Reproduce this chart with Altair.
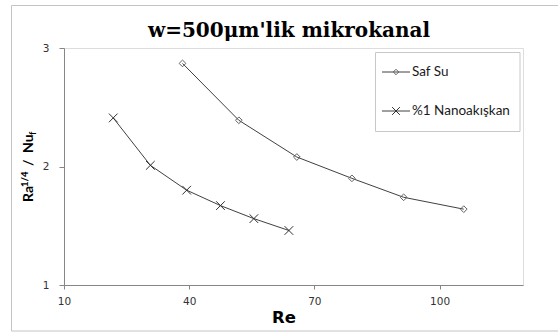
import altair as alt
import pandas as pd

# Reynolds number and Ra^(1/4)/Nu_f for the two working fluids
re_saf = [38.4, 51.9, 65.8, 79.0, 91.4, 105.8]
val_saf = [2.87, 2.39, 2.08, 1.90, 1.74, 1.64]
re_nano = [21.8, 30.7, 39.4, 47.5, 55.5, 63.9]
val_nano = [2.41, 2.01, 1.80, 1.67, 1.56, 1.46]

series_names = ["Saf Su", "%1 Nanoakışkan"]
x_ticks = [10, 40, 70, 100]
y_ticks = [1, 2, 3]

X_PATH = "M-1,-1L1,1M-1,1L1,-1"

df = pd.DataFrame(
    {
        "Re": re_saf + re_nano,
        "val": val_saf + val_nano,
        "seri": [series_names[0]] * len(re_saf) + [series_names[1]] * len(re_nano),
    }
)

W, H = 459, 237

x_enc = alt.X(
    "Re:Q",
    scale=alt.Scale(domain=[10, 120], nice=False, zero=False),
    axis=alt.Axis(values=x_ticks, format=".0f", title=None, grid=False, tickSize=4,
                  labelPadding=7, labelOverlap=False, labelFlush=False,
                  domainColor="#868686", tickColor="#868686",
                  labelFont="DejaVu Sans", labelFontSize=10.5, labelColor="#333333"),
)
y_enc = alt.Y(
    "val:Q",
    scale=alt.Scale(domain=[1, 3], nice=False, zero=False),
    axis=alt.Axis(values=y_ticks, format=".0f", title=None, grid=False, tickSize=5,
                  labelPadding=10, labelOverlap=False, labelFlush=False,
                  domainColor="#868686", tickColor="#868686",
                  labelFont="DejaVu Sans", labelFontSize=10.5, labelColor="#333333"),
)

base = alt.Chart(df)

lines = base.mark_line(color="#404040", strokeWidth=1).encode(
    x=x_enc, y=y_enc, detail="seri:N"
)

saf_pts = base.transform_filter(alt.datum.seri == series_names[0]).mark_point(
    shape="diamond", size=45, filled=False, color="#606060", strokeWidth=1, opacity=1
).encode(x="Re:Q", y="val:Q")

nano_pts = base.transform_filter(alt.datum.seri == series_names[1]).mark_point(
    shape=X_PATH, size=75, filled=False, color="#303030", strokeWidth=1, opacity=1
).encode(x="Re:Q", y="val:Q")

one = alt.Data(values=[{}])


def box(x, x2, y, y2, stroke):
    return alt.Chart(one).mark_rect(fill=None, stroke=stroke, strokeWidth=1).encode(
        x=alt.value(x), x2=alt.value(x2), y=alt.value(y), y2=alt.value(y2)
    )


def label(text, x, y, size, font, weight="normal", angle=0, align="left",
          baseline="alphabetic", color="#000000"):
    return alt.Chart(one).mark_text(
        text=text, fontSize=size, font=font, fontWeight=weight, angle=angle,
        align=align, baseline=baseline, color=color
    ).encode(x=alt.value(x), y=alt.value(y))


# outer frame of the chart
frame = box(-52.5, 520, -42.5, 283, "#c4c4c4")

# legend
leg_box = box(311.5, 456, 4.5, 83.5, "#c8c8c8")
leg_items = []
for name, yy, shp, sz, col in [
    (series_names[0], 24, "diamond", 30, "#606060"),
    (series_names[1], 63, X_PATH, 60, "#303030"),
]:
    leg_items.append(
        alt.Chart(one).mark_rule(color="#404040", strokeWidth=1).encode(
            x=alt.value(318), x2=alt.value(346), y=alt.value(yy)
        )
    )
    leg_items.append(
        alt.Chart(one).mark_point(shape=shp, size=sz, filled=False, color=col,
                                  strokeWidth=1, opacity=1).encode(
            x=alt.value(332), y=alt.value(yy)
        )
    )
    leg_items.append(label(name, 348, yy, 13.5, "Lato", baseline="middle",
                           color="#1a1a1a"))

# titles
title = label("w=500μm'lik mikrokanal", 225, -11, 20, "DejaVu Serif", "bold",
              align="center")
x_title = label("Re", 220, 275, 16.5, "DejaVu Sans", "bold", align="center")

# y title: Ra^(1/4) / Nu_f built from rotated pieces
y_title = [
    label("Ra", -31, 154, 14, "Lato", "bold", angle=270),
    label("1/4", -36, 139, 9.5, "Lato", "bold", angle=270),
    label("/", -31, 118, 14, "Lato", "bold", angle=270),
    label("Nu", -31, 105, 14, "Lato", "bold", angle=270),
    label("f", -28, 87, 9.5, "Lato", "bold", angle=270),
]

chart = alt.layer(
    frame, lines, saf_pts, nano_pts, leg_box, *leg_items, title, x_title, *y_title
).properties(
    width=W, height=H,
    autosize=alt.AutoSizeParams(type="none"),
    padding={"left": 64, "top": 48, "right": 35, "bottom": 47},
).configure_view(stroke="#c0c0c0", strokeWidth=1).configure(background="white")

chart.save("out.html", embed_options={"renderer": "svg", "actions": False})
